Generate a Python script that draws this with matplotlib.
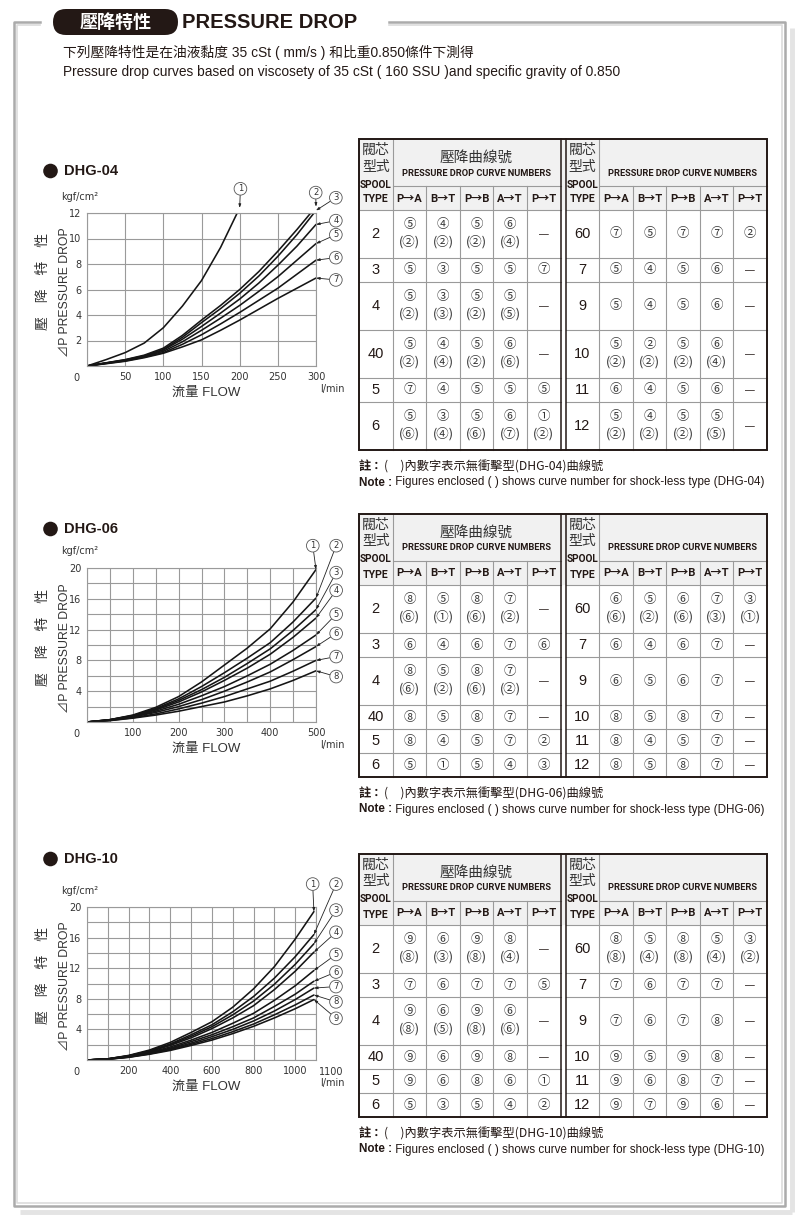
import matplotlib
matplotlib.use('Agg')
import matplotlib.pyplot as plt
from matplotlib import font_manager
from matplotlib.patches import FancyBboxPatch, Rectangle, Circle

plt.rcParams['font.family'] = ['Liberation Sans', 'Noto Sans CJK TC', 'DejaVu Sans']

# ---------------- data ----------------
# DHG-04 curves: flow (l/min) -> pressure drop (kgf/cm2)
dhg04_flow = [0, 25, 50, 75, 100, 125, 150, 175, 200, 225, 250, 275, 300]
dhg04_flow_1 = [0, 25, 50, 75, 100, 125, 150, 175, 200]
dhg04_c1 = [0, 0.5, 1.05, 1.8, 3.0, 4.7, 6.7, 9.3, 12.4]
dhg04_c2 = [0, 0.25, 0.5, 0.85, 1.4, 2.4, 3.6, 4.75, 6.0, 7.4, 9.0, 10.7, 12.5]
dhg04_c3 = [0, 0.24, 0.48, 0.8, 1.3, 2.25, 3.4, 4.5, 5.7, 7.05, 8.6, 10.3, 12.2]
dhg04_c4 = [0, 0.23, 0.45, 0.78, 1.25, 2.1, 3.1, 4.15, 5.25, 6.5, 7.9, 9.4, 11.1]
dhg04_c5 = [0, 0.22, 0.43, 0.75, 1.15, 1.9, 2.8, 3.75, 4.75, 5.85, 7.0, 8.3, 9.6]
dhg04_c6 = [0, 0.2, 0.4, 0.7, 1.05, 1.7, 2.45, 3.3, 4.2, 5.15, 6.1, 7.2, 8.3]
dhg04_c7 = [0, 0.18, 0.37, 0.65, 1.0, 1.5, 2.05, 2.8, 3.6, 4.45, 5.3, 6.1, 6.9]

# DHG-06 curves
dhg06_flow = [0, 50, 100, 150, 200, 250, 300, 350, 400, 450, 500]
dhg06_c1 = [0, 0.3, 0.9, 1.9, 3.3, 5.2, 7.4, 9.6, 12.1, 15.6, 19.8]
dhg06_c2 = [0, 0.3, 0.85, 1.75, 3.0, 4.6, 6.4, 8.3, 10.3, 13.0, 16.1]
dhg06_c3 = [0, 0.3, 0.8, 1.65, 2.8, 4.2, 5.8, 7.6, 9.5, 11.9, 14.6]
dhg06_c4 = [0, 0.28, 0.75, 1.55, 2.6, 3.9, 5.4, 7.0, 8.8, 11.0, 13.5]
dhg06_c5 = [0, 0.25, 0.7, 1.4, 2.3, 3.4, 4.6, 6.0, 7.5, 9.3, 11.3]
dhg06_c6 = [0, 0.22, 0.65, 1.25, 2.0, 2.9, 4.0, 5.2, 6.5, 8.1, 9.8]
dhg06_c7 = [0, 0.2, 0.55, 1.05, 1.7, 2.45, 3.3, 4.3, 5.3, 6.6, 8.0]
dhg06_c8 = [0, 0.18, 0.5, 0.9, 1.4, 2.0, 2.6, 3.4, 4.3, 5.4, 6.65]

# DHG-10 curves
dhg10_flow = [0, 100, 200, 300, 400, 500, 600, 700, 800, 900, 1000, 1090]
dhg10_c1 = [0, 0.15, 0.6, 1.3, 2.3, 3.6, 5.0, 6.9, 9.3, 12.2, 15.8, 19.4]
dhg10_c2 = [0, 0.15, 0.55, 1.2, 2.1, 3.3, 4.6, 6.3, 8.3, 10.7, 13.5, 16.4]
dhg10_c3 = [0, 0.15, 0.55, 1.15, 2.0, 3.1, 4.35, 5.9, 7.7, 9.9, 12.5, 15.2]
dhg10_c4 = [0, 0.14, 0.5, 1.1, 1.9, 2.9, 4.1, 5.5, 7.1, 9.2, 11.6, 14.1]
dhg10_c5 = [0, 0.13, 0.45, 1.0, 1.7, 2.6, 3.6, 4.8, 6.1, 7.8, 9.7, 11.7]
dhg10_c6 = [0, 0.12, 0.42, 0.92, 1.55, 2.4, 3.3, 4.35, 5.5, 7.0, 8.6, 10.3]
dhg10_c7 = [0, 0.11, 0.4, 0.86, 1.45, 2.2, 3.05, 4.0, 5.1, 6.4, 7.9, 9.4]
dhg10_c8 = [0, 0.1, 0.37, 0.8, 1.35, 2.05, 2.8, 3.7, 4.7, 5.9, 7.2, 8.5]
dhg10_c9 = [0, 0.1, 0.35, 0.75, 1.25, 1.9, 2.6, 3.45, 4.4, 5.5, 6.7, 7.9]

# tick labels (grid lines sit on every tick)
dhg04_xlabels = ['', '50', '100', '150', '200', '250', '300']
dhg04_ylabels = ['', '2', '4', '6', '8', '10', '12']
dhg06_xlabels = ['', '', '100', '', '200', '', '300', '', '400', '', '500']
dhg06_ylabels = ['', '', '4', '', '8', '', '12', '', '16', '', '20']
dhg10_xlabels = ['', '', '200', '', '400', '', '600', '', '800', '', '1000', '1100']
dhg10_ylabels = ['', '', '4', '', '8', '', '12', '', '16', '', '20']

# tables: "5(2)" -> 5 with shock-less (2), "-" -> none
ports = ['P→A', 'B→T', 'P→B', 'A→T', 'P→T']
dhg04_types_l = ['2', '3', '4', '40', '5', '6']
dhg04_cells_l = [['5(2)', '4(2)', '5(2)', '6(4)', '-'],
                 ['5', '3', '5', '5', '7'],
                 ['5(2)', '3(3)', '5(2)', '5(5)', '-'],
                 ['5(2)', '4(4)', '5(2)', '6(6)', '-'],
                 ['7', '4', '5', '5', '5'],
                 ['5(6)', '3(4)', '5(6)', '6(7)', '1(2)']]
dhg04_types_r = ['60', '7', '9', '10', '11', '12']
dhg04_cells_r = [['7', '5', '7', '7', '2'],
                 ['5', '4', '5', '6', '-'],
                 ['5', '4', '5', '6', '-'],
                 ['5(2)', '2(2)', '5(2)', '6(4)', '-'],
                 ['6', '4', '5', '6', '-'],
                 ['5(2)', '4(2)', '5(2)', '5(5)', '-']]

dhg06_types_l = ['2', '3', '4', '40', '5', '6']
dhg06_cells_l = [['8(6)', '5(1)', '8(6)', '7(2)', '-'],
                 ['6', '4', '6', '7', '6'],
                 ['8(6)', '5(2)', '8(6)', '7(2)', '-'],
                 ['8', '5', '8', '7', '-'],
                 ['8', '4', '5', '7', '2'],
                 ['5', '1', '5', '4', '3']]
dhg06_types_r = ['60', '7', '9', '10', '11', '12']
dhg06_cells_r = [['6(6)', '5(2)', '6(6)', '7(3)', '3(1)'],
                 ['6', '4', '6', '7', '-'],
                 ['6', '5', '6', '7', '-'],
                 ['8', '5', '8', '7', '-'],
                 ['8', '4', '5', '7', '-'],
                 ['8', '5', '8', '7', '-']]

dhg10_types_l = ['2', '3', '4', '40', '5', '6']
dhg10_cells_l = [['9(8)', '6(3)', '9(8)', '8(4)', '-'],
                 ['7', '6', '7', '7', '5'],
                 ['9(8)', '6(5)', '9(8)', '6(6)', '-'],
                 ['9', '6', '9', '8', '-'],
                 ['9', '6', '8', '6', '1'],
                 ['5', '3', '5', '4', '2']]
dhg10_types_r = ['60', '7', '9', '10', '11', '12']
dhg10_cells_r = [['8(8)', '5(4)', '8(8)', '5(4)', '3(2)'],
                 ['7', '6', '7', '7', '-'],
                 ['7', '6', '7', '8', '-'],
                 ['9', '5', '9', '8', '-'],
                 ['9', '6', '8', '7', '-'],
                 ['9', '7', '9', '6', '-']]

# ---------------- layout ----------------
W, H = 800, 1216
DARK = '#231815'
GRID = '#9a9a9a'
CJK = ['Noto Sans CJK TC', 'DejaVu Sans']
names = {f.name for f in font_manager.fontManager.ttflist}
NARROW = 'Liberation Sans Narrow' if 'Liberation Sans Narrow' in names else 'Roboto'
NARROW_F = [NARROW, 'Noto Sans CJK TC', 'DejaVu Sans']

fig = plt.figure(figsize=(W / 100, H / 100), dpi=100)
bg = fig.add_axes([0, 0, 1, 1], zorder=0)
bg.set_xlim(0, W)
bg.set_ylim(H, 0)
bg.axis('off')

# page frame
bg.plot([792, 792], [28, 1212], color='#e4e4e4', lw=3.5, solid_capstyle='butt')
bg.plot([20, 792], [1212, 1212], color='#e4e4e4', lw=3.5, solid_capstyle='butt')
bg.plot([40, 14, 14, 785, 785, 389], [22, 22, 1206, 1206, 22, 22], color='#ababab', lw=1.8)
bg.plot([40, 17, 17, 782, 782, 389], [25, 25, 1203, 1203, 25, 25], color='#dcdcdc', lw=1.2)

# header
bg.add_patch(FancyBboxPatch((53, 9), 125, 26, boxstyle='round,pad=0,rounding_size=13',
                            fc=DARK, ec='none'))
bg.text(116, 22.5, '壓降特性', color='white', fontsize=13, fontweight='bold',
        family=CJK, ha='center', va='center')
bg.text(182, 22.5, 'PRESSURE DROP', color=DARK, fontsize=14.5, fontweight='bold',
        ha='left', va='center')
bg.text(63, 52.5, '下列壓降特性是在油液黏度 35 cSt ( mm/s ) 和比重0.850條件下測得',
        fontsize=9.9, color=DARK, ha='left', va='center')
bg.text(63, 72, 'Pressure drop curves based on viscosety of 35 cSt ( 160 SSU )and specific gravity of 0.850',
        fontsize=9.9, color=DARK, ha='left', va='center')


def circ(d):
    return chr(0x2460 + int(d) - 1)


def draw_chart(title, title_y, box, flows, curves, xlabels, ylabels, xmax, ymax, label_xy,
               end_label=None):
    l, t, r, b = box
    bg.add_patch(Circle((50.5, title_y), 7.3, fc=DARK, ec='none'))
    bg.text(64, title_y, title, fontsize=10.5, fontweight='bold', color=DARK, va='center')
    bg.text(80, t - 16.5, 'kgf/cm²', fontsize=7, family='DejaVu Sans', color='#333',
            ha='center', va='center')
    cy = (t + b) / 2
    bg.text(43.5, cy - 8, '壓　降　特　性', fontsize=10, family=CJK, rotation=90,
            color='#333', ha='center', va='center')
    bg.text(65, cy + 3, '⊿P PRESSURE DROP', fontsize=8.8, rotation=90,
            color='#333', ha='center', va='center')
    bg.text(206.5, b + 26.5, '流量 FLOW', fontsize=9.5, color='#333', ha='center', va='center')
    bg.text(332, b + 23, 'l/min', fontsize=7, family='DejaVu Sans', color='#333',
            ha='center', va='center')
    bg.text(l - 11, b + 12, '0', fontsize=7, family='DejaVu Sans', color='#333',
            ha='center', va='center')

    ax = fig.add_axes([l / W, 1 - b / H, (r - l) / W, (b - t) / H], zorder=2)
    ax.set_xlim(0, xmax)
    ax.set_ylim(0, ymax)
    nx, ny = len(xlabels), len(ylabels)
    shown = list(xlabels)
    if end_label is not None:
        # last label sits a bit right of the axis end, as in the original print
        shown[-1] = ''
        bg.text(r + 15, b + 12, xlabels[-1], fontsize=7, family='DejaVu Sans', color='#333',
                ha='center', va='center')
    ax.set_xticks([xmax * i / (nx - 1) for i in range(nx)])
    ax.set_xticklabels(shown)
    ax.set_yticks([ymax * i / (ny - 1) for i in range(ny)])
    ax.set_yticklabels(ylabels)
    ax.tick_params(length=0, labelsize=7, colors='#333', pad=4)
    for lab in ax.get_xticklabels() + ax.get_yticklabels():
        lab.set_family('DejaVu Sans')
    ax.grid(True, color=GRID, lw=0.8)
    ax.set_axisbelow(True)
    for s in ax.spines.values():
        s.set_color(GRID)
        s.set_linewidth(0.8)
    for n, (fx, fy) in enumerate(zip(flows, curves), start=1):
        ax.plot(fx, fy, color='#151515', lw=1.15, solid_capstyle='round')
        ax.annotate(str(n), xy=(fx[-1], fy[-1]), xytext=label_xy[n - 1],
                    fontsize=6, family='DejaVu Sans', color='#333', ha='center', va='center',
                    bbox=dict(boxstyle='circle,pad=0.22', fc='white', ec='#555', lw=0.6),
                    arrowprops=dict(arrowstyle='-|>,head_length=0.35,head_width=0.12',
                                    color='#222', lw=0.6, shrinkA=0, shrinkB=0),
                    annotation_clip=False)
    return ax


TL = [359.0, 392.6, 426.2, 459.8, 493.4, 527.0, 560.6]
TR = [565.7, 599.2, 632.7, 666.2, 699.7, 733.2, 766.7]


def draw_table(top, types_l, cells_l, types_r, cells_r, model):
    heights = [48 if any('(' in c for c in a + b) else 24 for a, b in zip(cells_l, cells_r)]
    split, hdr = top + 47, top + 71
    edges = [hdr]
    for h in heights:
        edges.append(edges[-1] + h)
    bottom = edges[-1]
    bg.add_patch(Rectangle((TL[0], top), TR[-1] - TL[0], hdr - top, fc='#f1f1f1', ec='none'))
    for k, (xs, types, cells) in enumerate([(TL, types_l, cells_l), (TR, types_r, cells_r)]):
        bg.plot([xs[1], xs[1]], [top, bottom], color=GRID, lw=0.8)
        for x in xs[2:6]:
            bg.plot([x, x], [split, bottom], color=GRID, lw=0.8)
        bg.plot([xs[1], xs[6]], [split, split], color=GRID, lw=0.8)
        for y in edges[:-1]:
            bg.plot([xs[0], xs[6]], [y, y], color=GRID, lw=0.8)
        cx0 = (xs[0] + xs[1]) / 2
        bg.text(cx0, top + 11, '閥芯', fontsize=10, family=CJK, color='#333', ha='center', va='center')
        bg.text(cx0, top + 27.5, '型式', fontsize=10, family=CJK, color='#333', ha='center', va='center')
        bg.text(cx0, top + 45.5, 'SPOOL', fontsize=7.2, family=NARROW_F, fontweight='bold',
                color=DARK, ha='center', va='center')
        bg.text(cx0, top + 60.5, 'TYPE', fontsize=7.6, family=NARROW_F, fontweight='bold',
                color=DARK, ha='center', va='center')
        mid = (xs[1] + xs[6]) / 2
        if k == 0:
            bg.text(mid, top + 19, '壓降曲線號', fontsize=10.5, family=CJK, color='#333',
                    ha='center', va='center')
        bg.text(mid, top + 34, 'PRESSURE DROP CURVE NUMBERS', fontsize=6.7, family=NARROW_F,
                fontweight='bold', color=DARK, ha='center', va='center')
        for j, p in enumerate(ports):
            bg.text((xs[j + 1] + xs[j + 2]) / 2, top + 59.5, p, fontsize=8, family=NARROW_F,
                    fontweight='bold', color=DARK, ha='center', va='center')
        for i, (tp, row) in enumerate(zip(types, cells)):
            y0, y1 = edges[i], edges[i + 1]
            ym = (y0 + y1) / 2
            bg.text(cx0, ym, tp, fontsize=10.5, color=DARK, ha='center', va='center')
            for j, c in enumerate(row):
                cx = (xs[j + 1] + xs[j + 2]) / 2
                if c == '-':
                    bg.text(cx, ym, '—', fontsize=7, color=DARK, ha='center', va='center')
                elif '(' in c:
                    bg.text(cx, y0 + 0.3 * (y1 - y0), circ(c[0]), fontsize=9, family=CJK,
                            color='#333', ha='center', va='center')
                    bg.text(cx, y0 + 0.67 * (y1 - y0), '(' + circ(c[2]) + ')', fontsize=9,
                            family=CJK, color='#333', ha='center', va='center')
                else:
                    bg.text(cx, ym, circ(c), fontsize=9, family=CJK, color='#333',
                            ha='center', va='center')
    bg.add_patch(Rectangle((TL[0], top), TR[-1] - TL[0], bottom - top, fc='none',
                           ec=DARK, lw=1.4, zorder=3))
    for x in (TL[-1], TR[0]):
        bg.plot([x, x], [top, bottom], color=DARK, lw=1.1, zorder=3)
    t1 = bg.text(TL[0], bottom + 16.5, '註：', fontsize=8.8, fontweight='bold', family=CJK,
                 color=DARK, ha='left', va='center')
    bg.annotate('(　)內數字表示無衝擊型(' + model + ')曲線號', xy=(1, 0.5), xycoords=t1,
                fontsize=8.8, family=CJK, color=DARK, ha='left', va='center')
    t2 = bg.text(TL[0], bottom + 32.5, 'Note :', fontsize=8.4, fontweight='bold',
                 color=DARK, ha='left', va='center')
    bg.annotate(' Figures enclosed ( ) shows curve number for shock-less type (' + model + ')',
                xy=(1, 0.5), xycoords=t2, fontsize=8.4, color=DARK, ha='left', va='center')


draw_chart('DHG-04', 171, (87, 213, 316, 366),
           [dhg04_flow_1] + [dhg04_flow] * 6,
           [dhg04_c1, dhg04_c2, dhg04_c3, dhg04_c4, dhg04_c5, dhg04_c6, dhg04_c7],
           dhg04_xlabels, dhg04_ylabels, 300, 12,
           [(201, 13.9), (299.6, 13.6), (326, 13.2), (326, 11.4), (326, 10.3), (326, 8.5), (326, 6.75)])
draw_chart('DHG-06', 529, (87, 568, 316, 722),
           [dhg06_flow] * 8,
           [dhg06_c1, dhg06_c2, dhg06_c3, dhg06_c4, dhg06_c5, dhg06_c6, dhg06_c7, dhg06_c8],
           dhg06_xlabels, dhg06_ylabels, 500, 20,
           [(493, 22.9), (544, 22.9), (544, 19.4), (544, 17.1), (544, 14.0), (544, 11.5),
            (544, 8.5), (544, 5.9)])
draw_chart('DHG-10', 859, (87, 907, 316, 1060),
           [dhg10_flow] * 9,
           [dhg10_c1, dhg10_c2, dhg10_c3, dhg10_c4, dhg10_c5, dhg10_c6, dhg10_c7, dhg10_c8, dhg10_c9],
           dhg10_xlabels, dhg10_ylabels, 1100, 20,
           [(1084, 23.0), (1196, 23.0), (1196, 19.6), (1196, 16.7), (1196, 13.8), (1196, 11.5),
            (1196, 9.6), (1196, 7.6), (1196, 5.45)], end_label=True)

draw_table(139, dhg04_types_l, dhg04_cells_l, dhg04_types_r, dhg04_cells_r, 'DHG-04')
draw_table(514, dhg06_types_l, dhg06_cells_l, dhg06_types_r, dhg06_cells_r, 'DHG-06')
draw_table(854, dhg10_types_l, dhg10_cells_l, dhg10_types_r, dhg10_cells_r, 'DHG-10')

fig.savefig('out.png', dpi=100)
